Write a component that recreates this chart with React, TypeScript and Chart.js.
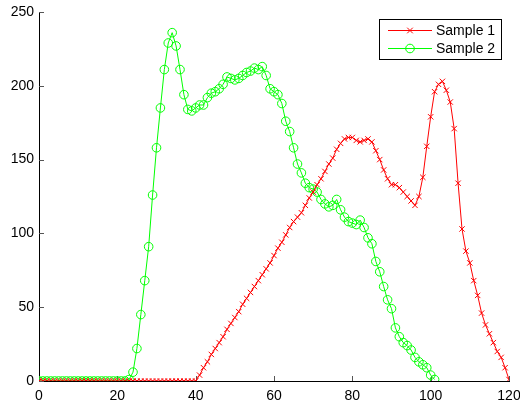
import React, { useEffect, useRef } from "react";
import { Chart, registerables } from "chart.js";

Chart.register(...registerables);

// ---- data (x = sample index) ----
const sample1Label = "Sample 1";
const sample2Label = "Sample 2";

const sample1: number[] = [
  0, 0, 0, 0, 0, 0, 0, 0, 0, 0,
  0, 0, 0, 0, 0, 0, 0, 0, 0, 0,
  0, 0, 0, 0, 0, 0, 0, 0, 0, 0,
  0, 0, 0, 0, 0, 0, 0, 0, 0, 0,
  0, 4, 9, 13, 18, 22, 26, 30, 35, 39,
  43, 47, 52, 56, 60, 64, 68, 72, 76, 80,
  85, 90, 94, 99, 104, 108, 111, 114, 119, 124,
  128, 133, 137, 142, 147, 151, 157, 161, 164, 165,
  165, 163, 162, 163, 164, 162, 156, 150, 143, 137,
  133, 133, 131, 128, 125, 122, 119, 125, 138, 159,
  179, 196, 201, 203, 197, 189, 171, 134, 103, 88,
  80, 68, 58, 46, 38, 32, 26, 20, 16, 9,
  1,
];

const sample2: number[] = [
  0, 0, 0, 0, 0, 0, 0, 0, 0, 0,
  0, 0, 0, 0, 0, 0, 0, 0, 0, 0,
  0, 0, 0, 1, 6, 22, 45, 68, 91, 126,
  158, 185, 211, 229, 236, 227, 211, 194, 184, 183,
  185, 187, 187, 192, 195, 196, 198, 201, 206, 205,
  204, 205, 207, 209, 210, 212, 211, 213, 207, 198,
  196, 194, 188, 176, 169, 158, 147, 141, 134, 131,
  130, 128, 123, 120, 118, 119, 123, 116, 111, 108,
  107, 106, 109, 104, 97, 93, 81, 74, 64, 55,
  49, 36, 30, 26, 24, 21, 16, 13, 11, 9,
  4, 1,
];

const xMin = 0;
const xMax = 120;
const xStep = 20;
const yMin = 0;
const yMax = 250;
const yStep = 50;

const RED = "#ff0000";
const GREEN = "#00ff00";
const FONT = "'Liberation Sans', Arial, Helvetica, sans-serif";

const toPoints = (arr: number[]) => arr.map((y, i) => ({ x: i, y }));

const innerTicks = {
  id: "innerTicks",
  beforeDatasetsDraw(chart: any) {
    const { ctx, chartArea } = chart;
    const xs = chart.scales.x;
    const ys = chart.scales.y;
    ctx.save();
    ctx.strokeStyle = "#555";
    ctx.lineWidth = 1;
    ctx.beginPath();
    xs.ticks.forEach((t: any) => {
      const px = Math.round(xs.getPixelForValue(t.value)) + 0.5;
      ctx.moveTo(px, chartArea.bottom);
      ctx.lineTo(px, chartArea.bottom - 5);
    });
    ys.ticks.forEach((t: any) => {
      const py = Math.round(ys.getPixelForValue(t.value)) + 0.5;
      ctx.moveTo(chartArea.left, py);
      ctx.lineTo(chartArea.left + 5, py);
    });
    ctx.stroke();
    ctx.restore();
  },
};

const boxLegend = {
  id: "boxLegend",
  afterDraw(chart: any) {
    const { ctx } = chart;
    const x0 = 379.5;
    const y0 = 19.5;
    const w = 122;
    const h = 40;
    ctx.save();
    ctx.fillStyle = "#ffffff";
    ctx.fillRect(x0, y0, w, h);
    ctx.strokeStyle = "#000000";
    ctx.lineWidth = 1;
    ctx.strokeRect(x0, y0, w, h);
    const rows = [30.5, 48.5];
    chart.data.datasets.forEach((ds: any, i: number) => {
      const y = rows[i];
      ctx.strokeStyle = ds.borderColor;
      ctx.lineWidth = 1;
      ctx.beginPath();
      ctx.moveTo(388, y);
      ctx.lineTo(432, y);
      ctx.stroke();
      const mx = 410;
      ctx.beginPath();
      if (ds.pointStyle === "crossRot") {
        const d = 2.8;
        ctx.moveTo(mx - d, y - d);
        ctx.lineTo(mx + d, y + d);
        ctx.moveTo(mx - d, y + d);
        ctx.lineTo(mx + d, y - d);
      } else {
        ctx.arc(mx, y, ds.pointRadius, 0, Math.PI * 2);
      }
      ctx.stroke();
      ctx.fillStyle = "#000000";
      ctx.font = `14px ${FONT}`;
      ctx.textBaseline = "middle";
      ctx.textAlign = "left";
      ctx.fillText(ds.label, 436, y + 0.5);
    });
    ctx.restore();
  },
};

export default function App() {
  const canvasRef = useRef<HTMLCanvasElement | null>(null);

  useEffect(() => {
    const canvas = canvasRef.current;
    if (!canvas) return;
    const chart = new Chart(canvas, {
      type: "line",
      data: {
        datasets: [
          {
            label: sample1Label,
            data: toPoints(sample1),
            borderColor: RED,
            backgroundColor: RED,
            borderWidth: 1,
            pointStyle: "crossRot",
            pointRadius: 3.8,
            pointBorderWidth: 1,
            pointBorderColor: RED,
            fill: false,
            tension: 0,
          },
          {
            label: sample2Label,
            data: toPoints(sample2),
            borderColor: GREEN,
            backgroundColor: "transparent",
            borderWidth: 1,
            pointStyle: "circle",
            pointRadius: 4.3,
            pointBorderWidth: 1,
            pointBorderColor: GREEN,
            pointBackgroundColor: "transparent",
            fill: false,
            tension: 0,
          },
        ],
      },
      options: {
        responsive: false,
        animation: false,
        events: [],
        layout: { padding: { top: 12, right: 11, left: 0, bottom: 0 } },
        plugins: {
          legend: { display: false },
          tooltip: { enabled: false },
        },
        scales: {
          x: {
            type: "linear",
            min: xMin,
            max: xMax,
            grid: { display: true, drawOnChartArea: false, drawTicks: false },
            border: { display: true, color: "#000000", width: 1 },
            ticks: {
              stepSize: xStep,
              color: "#000000",
              padding: 7,
              font: { family: FONT, size: 14 },
              maxRotation: 0,
            },
            afterFit: (scale: any) => {
              scale.height = 24;
              scale.paddingLeft = 0;
              scale.paddingRight = 0;
            },
          },
          y: {
            type: "linear",
            min: yMin,
            max: yMax,
            grid: { display: true, drawOnChartArea: false, drawTicks: false },
            border: { display: true, color: "#000000", width: 1 },
            ticks: {
              stepSize: yStep,
              color: "#000000",
              padding: 5,
              font: { family: FONT, size: 14 },
            },
            afterFit: (scale: any) => {
              scale.width = 39;
              scale.paddingTop = 0;
              scale.paddingBottom = 0;
            },
          },
        },
      },
      plugins: [innerTicks, boxLegend],
    });
    return () => chart.destroy();
  }, []);

  return (
    <div style={{ position: "absolute", left: 0, top: 0, width: 520, height: 405, background: "#fff" }}>
      <canvas ref={canvasRef} width={520} height={405} style={{ display: "block" }} />
    </div>
  );
}
